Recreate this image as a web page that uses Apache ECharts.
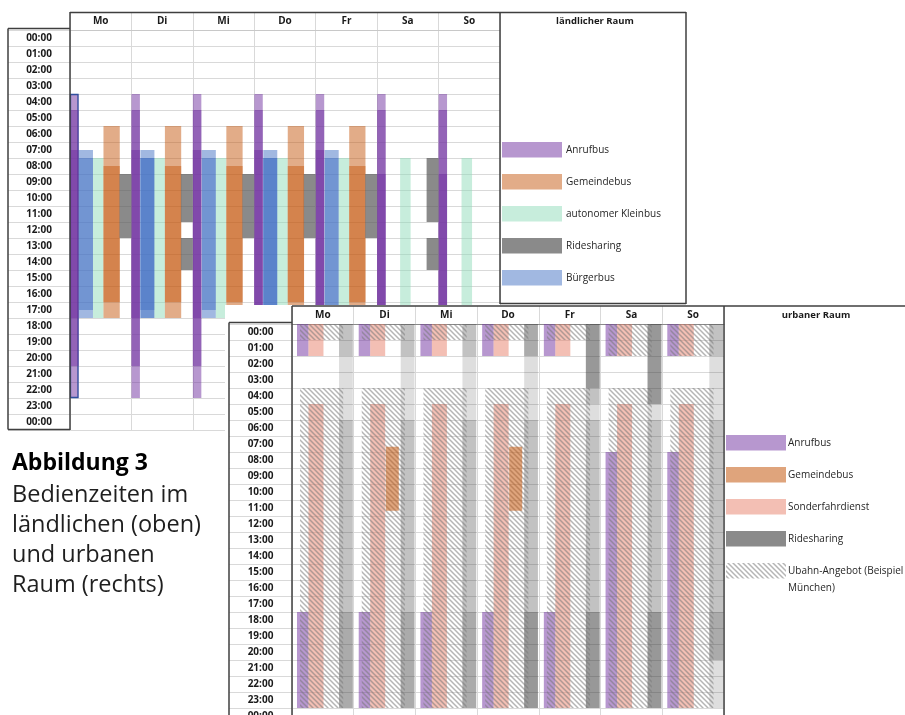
<!DOCTYPE html>
<html>
<head>
<meta charset="utf-8">
<script src="https://cdn.jsdelivr.net/npm/echarts@6/dist/echarts.min.js"></script>
<style>
  html, body { margin: 0; padding: 0; background: #fff; }
  #rural { position: absolute; left: 0; top: 0; width: 905px; height: 715px; }
  #urban { position: absolute; left: 225px; top: 305px; width: 680px; height: 410px; background: #fff; }
</style>
</head>
<body>
<div id="rural"></div>
<div id="urban"></div>
<script>
// ---------- Daten ----------
const days = ['Mo', 'Di', 'Mi', 'Do', 'Fr', 'Sa', 'So'];
const hourLabels = ['00:00', '01:00', '02:00', '03:00', '04:00', '05:00', '06:00', '07:00',
  '08:00', '09:00', '10:00', '11:00', '12:00', '13:00', '14:00', '15:00', '16:00',
  '17:00', '18:00', '19:00', '20:00', '21:00', '22:00', '23:00', '00:00'];

// Ländlicher Raum: Bedienzeiten je Wochentag als [von, bis] in Stunden.
// Mehrere Zeiträume pro Tag liegen übereinander (Rand- und Kernzeiten).
const ruralAnrufbus = [
  [[4, 23], [5, 21], [7.5, 18]],
  [[4, 23], [5, 21], [7.5, 18]],
  [[4, 23], [5, 21], [7.5, 18]],
  [[4, 23], [5, 21], [7.5, 18]],
  [[4, 23], [5, 21], [7.5, 18]],
  [[4, 23], [5, 21], [9, 18]],
  [[4, 23], [5, 21], [9, 18]]
];
const ruralBuergerbus = [
  [[7.5, 18], [8, 17.5]],
  [[7.5, 18], [8, 18], [8, 17.5]],
  [[7.5, 18], [8, 17.5]],
  [[7.5, 18], [8, 18], [8, 17.5]],
  [[7.5, 18], [8, 17.5]],
  [],
  []
];
const ruralKleinbus = [
  [[8, 18]], [[8, 18]], [[8, 18]], [[8, 18]], [[8, 18]], [[8, 18]], [[8, 18]]
];
const ruralGemeindebus = [
  [[6, 18], [8.5, 17]],
  [[6, 18], [8.5, 17]],
  [[6, 18], [8.5, 17]],
  [[6, 18], [8.5, 17]],
  [[6, 18], [8.5, 17]],
  [],
  []
];
const ruralRidesharing = [
  [[9, 13]],
  [[9, 12], [13, 15]],
  [[9, 13]],
  [[9, 13]],
  [[9, 13]],
  [[8, 12], [13, 15]],
  []
];

// Urbaner Raum
const urbanAnrufbus = [
  [[0, 2], [18, 24]], [[0, 2], [18, 24]], [[0, 2], [18, 24]], [[0, 2], [18, 24]],
  [[0, 2], [18, 24]], [[0, 2], [8, 24]], [[0, 2], [8, 24]]
];
const urbanGemeindebus = [
  [], [[7.67, 11.67]], [], [[7.67, 11.67]], [], [], []
];
const urbanSonderfahrdienst = [
  [[0, 2], [5, 24]], [[0, 2], [5, 24]], [[0, 2], [5, 24]], [[0, 2], [5, 24]],
  [[0, 2], [5, 24]], [[0, 2], [5, 24]], [[0, 2], [5, 24]]
];
// Ridesharing: überlagerte Angebote, je mehr Anbieter, desto dunkler
const urbanRidesharing = [
  [[0, 24], [0, 2], [6, 24], [18, 24]],
  [[0, 24], [0, 2], [6, 24], [18, 24]],
  [[0, 24], [0, 2], [6, 24], [18, 24]],
  [[0, 24], [0, 2], [0, 2], [6, 24], [18, 24], [18, 24]],
  [[0, 24], [0, 5], [0, 4], [0, 4], [6, 24], [18, 24], [18, 24]],
  [[0, 24], [0, 5], [0, 5], [0, 5], [6, 24], [18, 24], [18, 24]],
  [[0, 24], [0, 2], [6, 21], [18, 21]]
];
const urbanUbahn = [
  [[0, 1], [4, 24]], [[0, 1], [4, 24]], [[0, 1], [4, 24]], [[0, 1], [4, 24]],
  [[0, 1], [4, 24]], [[0, 2], [4, 24]], [[0, 2], [4, 24]]
];

// ---------- Stil ----------
const FONT = '"Open Sans", "DejaVu Sans", sans-serif';
const GRID_LINE = '#d9d9d9';
const FRAME = '#3f3f3f';
const TEXT = '#1a1a1a';

// Schraffur für das U-Bahn-Angebot
function makeHatch() {
  const s = 5;
  const c = document.createElement('canvas');
  c.width = s; c.height = s;
  const ctx = c.getContext('2d');
  ctx.strokeStyle = 'rgba(120,120,120,0.55)';
  ctx.lineWidth = 1.5;
  ctx.beginPath();
  ctx.moveTo(-1, -1); ctx.lineTo(s + 1, s + 1);
  ctx.moveTo(-1, s - 1); ctx.lineTo(1, s + 1);
  ctx.moveTo(s - 1, -1); ctx.lineTo(s + 1, 1);
  ctx.stroke();
  return { image: c, repeat: 'repeat' };
}
const hatch = makeHatch();

// Spaltenlage je Angebot innerhalb eines Tages (Anteil der Tagesbreite)
const ruralServices = [
  { name: 'Anrufbus', data: ruralAnrufbus, fill: '#7030A0', opacity: 0.5, col: [0, 0.138], outlineDay: 0 },
  { name: 'Bürgerbus', data: ruralBuergerbus, fill: '#4472C4', opacity: 0.5, col: [0.146, 0.374] },
  { name: 'autonomer Kleinbus', data: ruralKleinbus, fill: '#8FDCB9', opacity: 0.5, col: [0.374, 0.545] },
  { name: 'Gemeindebus', data: ruralGemeindebus, fill: '#C55A11', opacity: 0.5, col: [0.545, 0.81] },
  { name: 'Ridesharing', data: ruralRidesharing, fill: '#595959', opacity: 0.7, col: [0.805, 1] }
];
const ruralLegendOrder = ['Anrufbus', 'Gemeindebus', 'autonomer Kleinbus', 'Ridesharing', 'Bürgerbus'];

const urbanServices = [
  { name: 'Anrufbus', data: urbanAnrufbus, fill: '#7030A0', opacity: 0.5, col: [0.081, 0.267] },
  { name: 'Sonderfahrdienst', data: urbanSonderfahrdienst, fill: '#E8806A', opacity: 0.5, col: [0.267, 0.51] },
  { name: 'Ridesharing', data: urbanRidesharing, fill: '#3a3a3a', opacity: 0.17, col: [0.762, 0.985],
    legendFill: '#595959', legendOpacity: 0.7 },
  { name: 'Ubahn-Angebot (Beispiel\nMünchen)', data: urbanUbahn, fill: hatch, opacity: 1, col: [0.13, 0.83] },
  { name: 'Gemeindebus', data: urbanGemeindebus, fill: '#C55A11', opacity: 0.55, col: [0.519, 0.73] }
];
const urbanLegendOrder = ['Anrufbus', 'Gemeindebus', 'Sonderfahrdienst', 'Ridesharing', 'Ubahn-Angebot (Beispiel\nMünchen)'];

// ---------- Aufbau ----------
function spanSeries(svc) {
  const data = [];
  svc.data.forEach((spans, d) => spans.forEach((s, k) => data.push([d, s[0], s[1], k])));
  return {
    type: 'custom',
    name: svc.name,
    xAxisIndex: 0,
    yAxisIndex: 1,
    data: data,
    encode: { x: 0, y: [1, 2] },
    silent: true,
    animation: false,
    renderItem: function (params, api) {
      const d = api.value(0);
      const p0 = api.coord([d, api.value(1)]);
      const p1 = api.coord([d, api.value(2)]);
      const bw = api.size([1, 0])[0];
      const left = p0[0] - bw / 2;
      const x0 = left + bw * svc.col[0];
      const x1 = left + bw * svc.col[1];
      const style = { fill: svc.fill, opacity: svc.opacity };
      const el = {
        type: 'rect',
        shape: { x: x0, y: p0[1], width: x1 - x0, height: p1[1] - p0[1] },
        style: style
      };
      if (svc.outlineDay === d && api.value(3) === 0) {
        return {
          type: 'group',
          children: [el, {
            type: 'rect',
            shape: { x: x0 + 0.5, y: p0[1] + 0.5, width: x1 - x0 - 1, height: p1[1] - p0[1] - 1 },
            style: { fill: 'none', stroke: '#2f4f9e', lineWidth: 1.3 }
          }]
        };
      }
      return el;
    }
  };
}

function axes(gridLeft, labelMargin, headerLen, headerLineColor) {
  return {
    xAxis: [{
      type: 'category', data: days, position: 'top', boundaryGap: true,
      axisLine: { show: true, lineStyle: { color: headerLineColor, width: 1 } },
      axisTick: { show: true, length: headerLen, interval: 0, lineStyle: { color: GRID_LINE } },
      axisLabel: { interval: 0, margin: 9, verticalAlign: 'middle', color: TEXT,
        fontFamily: FONT, fontWeight: 'bold', fontSize: 10 },
      splitLine: { show: true, interval: 0, lineStyle: { color: GRID_LINE, width: 1 } }
    }],
    yAxis: [{
      type: 'category', data: hourLabels, inverse: true, boundaryGap: true,
      axisLine: { show: false },
      axisTick: { show: true, length: gridLeft, interval: 0, lineStyle: { color: GRID_LINE } },
      axisLabel: { interval: 0, margin: labelMargin, align: 'center', color: TEXT,
        fontFamily: FONT, fontWeight: 'bold', fontSize: 10,
        formatter: function (v, i) { return hourLabels[i]; } },
      splitLine: { show: true, interval: 0, lineStyle: { color: GRID_LINE, width: 1 } }
    }, {
      type: 'value', min: 0, max: 25, inverse: true, show: false
    }]
  };
}

function line(x1, y1, x2, y2, color, width) {
  return { type: 'line', z: 100, silent: true,
    shape: { x1: x1, y1: y1, x2: x2, y2: y2 },
    style: { stroke: color || FRAME, lineWidth: width || 1.5 } };
}
function text(x, y, str, font, align, color) {
  return { type: 'text', z: 100, silent: true, x: x, y: y,
    style: { text: str, font: font, fill: color || TEXT,
      align: align || 'left', textAlign: align || 'left',
      verticalAlign: 'middle', textVerticalAlign: 'middle', lineHeight: 17 } };
}
function legend(services, order, x, y0, step, textX) {
  const out = [];
  order.forEach((name, i) => {
    const svc = services.find(s => s.name === name);
    const y = y0 + i * step;
    out.push({ type: 'rect', z: 100, silent: true,
      shape: { x: x, y: y, width: 60, height: 15.5 },
      style: { fill: svc.legendFill || svc.fill,
        opacity: svc.legendOpacity != null ? svc.legendOpacity : svc.opacity } });
    const lines = name.split('\n');
    lines.forEach((ln, j) => out.push(text(textX, y + 8 + j * 17, ln, '10px ' + FONT, 'left', '#262626')));
  });
  return out;
}

// ---------- ländlicher Raum ----------
const ruralChart = echarts.init(document.getElementById('rural'), null, { renderer: 'canvas' });
const ruralAxes = axes(62, 31, 18, '#c8c8c8');
ruralChart.setOption({
  animation: false,
  backgroundColor: '#fff',
  grid: { left: 70, top: 30, width: 430, height: 400, containLabel: false, outerBoundsMode: 'none' },
  xAxis: ruralAxes.xAxis,
  yAxis: ruralAxes.yAxis,
  series: ruralServices.map(spanSeries),
  graphic: [].concat(
    [
      line(8, 28.5, 70, 28.5),
      line(8, 28.5, 8, 429.5),
      line(8, 429.5, 70, 429.5),
      line(70, 12, 70, 430),
      line(70, 12.5, 686, 12.5),
      line(500, 12, 500, 304),
      line(686, 12, 686, 304),
      line(500, 303.5, 686, 303.5),
      text(595, 21, 'ländlicher Raum', 'bold 9.5px ' + FONT, 'center'),
      text(12, 463, 'Abbildung 3', 'bold 23px ' + FONT, 'left', '#000'),
      text(12, 495, 'Bedienzeiten im', '23.5px ' + FONT, 'left', '#1f1f1f'),
      text(12, 525, 'ländlichen (oben)', '23.5px ' + FONT, 'left', '#1f1f1f'),
      text(12, 555, 'und urbanen', '23.5px ' + FONT, 'left', '#1f1f1f'),
      text(12, 585, 'Raum (rechts)', '23.5px ' + FONT, 'left', '#1f1f1f')
    ],
    legend(ruralServices, ruralLegendOrder, 502, 142, 32, 566)
  )
});

// ---------- urbaner Raum ----------
const urbanChart = echarts.init(document.getElementById('urban'), null, { renderer: 'canvas' });
const urbanAxes = axes(63, 31.5, 18, '#8a8a8a');
urbanChart.setOption({
  animation: false,
  backgroundColor: '#fff',
  grid: { left: 67, top: 19, width: 432, height: 400, containLabel: false, outerBoundsMode: 'none' },
  xAxis: urbanAxes.xAxis,
  yAxis: urbanAxes.yAxis,
  series: urbanServices.map(spanSeries),
  graphic: [].concat(
    [
      line(67, 1, 680, 1),
      line(67, 1, 67, 410),
      line(4, 17.5, 67, 17.5),
      line(4, 17.5, 4, 410),
      line(499, 1, 499, 410),
      text(591, 10, 'urbaner Raum', 'bold 9.5px ' + FONT, 'center')
    ],
    legend(urbanServices, urbanLegendOrder, 501, 130, 32, 563)
  )
});
</script>
</body>
</html>
